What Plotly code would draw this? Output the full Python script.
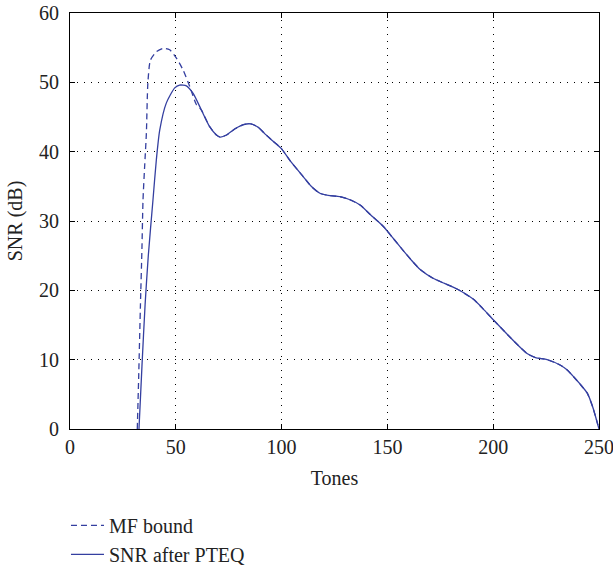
import plotly.graph_objects as go

# SNR after PTEQ (solid)
snr_x = [32.6, 34, 35.5, 37, 39.2, 40.8, 42.4, 45.5, 49.5, 51.8, 55, 58.2, 62.1, 66, 69.2, 71, 74, 78, 82,
         85.5, 89, 92, 96, 100, 104, 110.2, 114, 118.1, 122, 127.6, 132, 137.1, 142, 148.1, 153, 157.6,
         161.5, 165.5, 171.8, 177, 182.9, 190.7, 195, 200.2, 204, 208.1, 212, 216, 220, 225.5, 231.8,
         235, 238.1, 241, 244.4, 247, 250]
snr_y = [0, 9, 18, 25, 33, 38.8, 43.1, 47, 49.2, 49.6, 49.5, 48.4, 46, 43.6, 42.4, 42.1, 42.4, 43.3, 43.9,
         44.0, 43.5, 42.6, 41.5, 40.4, 38.7, 36.4, 35, 34.0, 33.7, 33.5, 33.1, 32.3, 30.9, 29.2, 27.4, 25.7,
         24.3, 23.0, 21.7, 21.0, 20.2, 18.7, 17.4, 15.7, 14.5, 13.2, 12.0, 10.9, 10.3, 10.0, 9.2,
         8.5, 7.5, 6.5, 5.2, 3.2, 0]

# MF bound (dashed) - differs from the solid curve only at the start
mf_head_x = [31.8, 32.5, 33.3, 34, 34.5, 35.3, 36.1, 36.8, 38, 40.8, 43.9, 47.1, 50.3, 53.4, 56.6, 59.7]
mf_head_y = [0, 8, 18, 26, 33, 38, 42.7, 49.9, 53.2, 54.4, 54.9, 54.7, 53.5, 51.8, 49.4, 46.8]

x_ticks = [0, 50, 100, 150, 200, 250]
y_ticks = [0, 10, 20, 30, 40, 50, 60]

mf_x = mf_head_x + [x for x in snr_x if x >= 62]
mf_y = mf_head_y + [y for x, y in zip(snr_x, snr_y) if x >= 62]

color = "#343fa0"
font = "Liberation Serif"
fsize = 20

fig = go.Figure()
fig.add_trace(go.Scatter(x=mf_x, y=mf_y, mode="lines", name="MF bound",
                         line=dict(color=color, width=1.3, dash="6px,4px", shape="spline", smoothing=0.6)))
fig.add_trace(go.Scatter(x=snr_x, y=snr_y, mode="lines", name="SNR after PTEQ",
                         line=dict(color=color, width=1.3, shape="spline", smoothing=0.6)))

axis_common = dict(showline=True, linecolor="black", linewidth=1.2, mirror="ticks",
                   ticks="inside", ticklen=5, tickcolor="black", showgrid=True,
                   gridcolor="black", gridwidth=1, griddash="1px,6px", zeroline=False,
                   automargin=False, ticklabeloverflow="allow",
                   tickfont=dict(family=font, size=fsize, color="#222"))

fig.update_xaxes(range=[0, 250], tickvals=x_ticks, ticktext=[str(v) for v in x_ticks],
                 title=dict(text="Tones", font=dict(family=font, size=fsize, color="#222"), standoff=13),
                 ticklabelstandoff=0, **axis_common)
fig.update_yaxes(range=[0, 60], tickvals=y_ticks, ticktext=[str(v) for v in y_ticks],
                 title=dict(text="SNR (dB)", font=dict(family=font, size=fsize, color="#222"), standoff=10),
                 ticklabelstandoff=6, **axis_common)

fig.update_layout(
    width=613, height=567,
    margin=dict(l=70, r=14, t=13, b=138, autoexpand=False),
    plot_bgcolor="white", paper_bgcolor="white",
    showlegend=True,
    legend=dict(x=-0.0076, y=-0.185, xanchor="left", yanchor="top", itemwidth=33,
                font=dict(family=font, size=fsize, color="#222"),
                bgcolor="rgba(0,0,0,0)", tracegroupgap=0),
)

# remove the page's default body margin so the figure fills the window exactly
fig.write_html("out.html", config={"displayModeBar": False},
               post_script="document.body.style.margin='0';document.body.style.overflow='hidden';")
